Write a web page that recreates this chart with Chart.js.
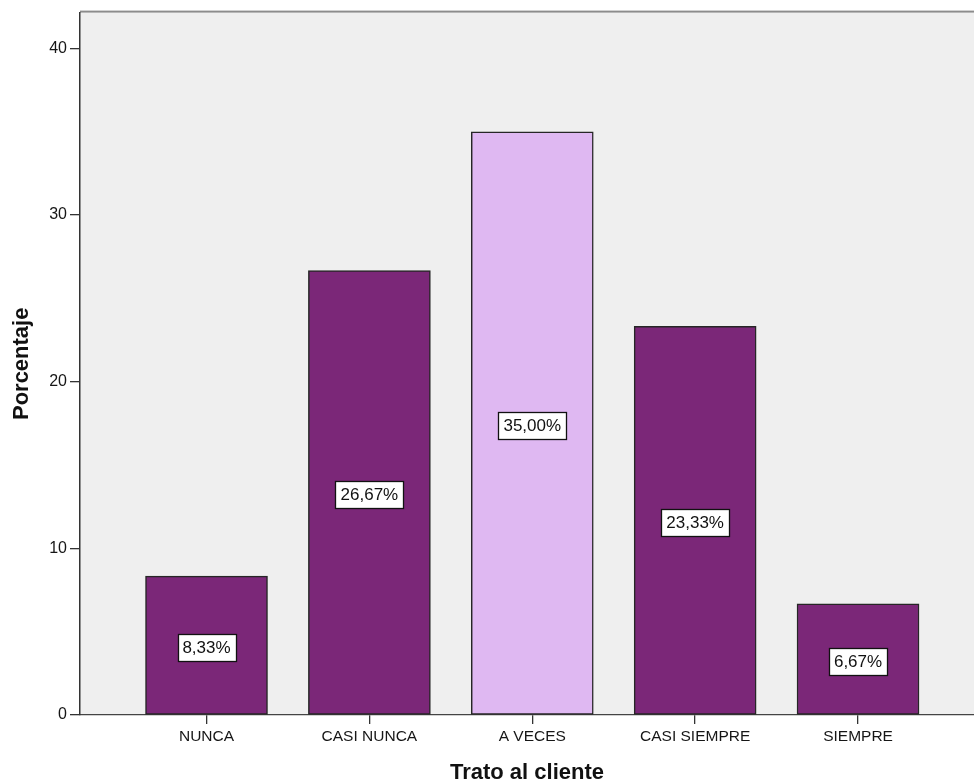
<!DOCTYPE html>
<html>
<head>
<meta charset="utf-8">
<script src="https://cdn.jsdelivr.net/npm/chart.js@4/dist/chart.umd.min.js"></script>
<style>
  html, body { margin: 0; padding: 0; background: #ffffff; }
  #wrap { width: 974px; height: 784px; }
</style>
</head>
<body>
<div id="wrap"><canvas id="c" width="974" height="784"></canvas></div>
<script>
// Distribución de respuestas: Trato al cliente
const categories = ['NUNCA', 'CASI NUNCA', 'A VECES', 'CASI SIEMPRE', 'SIEMPRE'];
const percentages = [8.33, 26.67, 35.00, 23.33, 6.67];
const valueLabels = ['8,33%', '26,67%', '35,00%', '23,33%', '6,67%'];
const yTicks = [0, 10, 20, 30, 40];

const DARK = '#7b2778';
const LIGHT = '#dfb8f2';
const barColors = categories.map(c => c === 'A VECES' ? LIGHT : DARK);

// plot panel: grey background with a heavier top rule
const panelPlugin = {
  id: 'panel',
  beforeDraw(chart) {
    const { ctx, chartArea: a } = chart;
    ctx.save();
    ctx.fillStyle = '#efefef';
    ctx.fillRect(a.left, a.top, a.right - a.left, a.bottom - a.top);
    ctx.fillStyle = '#8c8c8c';
    ctx.fillRect(a.left, a.top - 2, a.right - a.left, 2);
    ctx.restore();
  }
};

// boxed value labels in the middle of every bar
const boxLabelPlugin = {
  id: 'boxLabels',
  afterDatasetsDraw(chart) {
    const { ctx } = chart;
    const meta = chart.getDatasetMeta(0);
    ctx.save();
    ctx.font = '17px "Liberation Sans", Arial, sans-serif';
    ctx.textAlign = 'center';
    ctx.textBaseline = 'middle';
    meta.data.forEach((bar, i) => {
      const text = valueLabels[i];
      const cx = bar.x;
      const cy = (bar.y + bar.base) / 2 + 2;
      const w = Math.round(ctx.measureText(text).width + 10);
      const h = 27;
      const x0 = Math.round(cx - w / 2) + 0.5;
      const y0 = Math.round(cy - h / 2) + 0.5;
      ctx.fillStyle = '#ffffff';
      ctx.fillRect(x0, y0, w, h);
      ctx.strokeStyle = '#111111';
      ctx.lineWidth = 1.3;
      ctx.strokeRect(x0, y0, w, h);
      ctx.fillStyle = '#111111';
      ctx.fillText(text, cx, cy + 1);
    });
    ctx.restore();
  }
};

new Chart(document.getElementById('c'), {
  type: 'bar',
  data: {
    datasets: [{
      data: categories.map((c, i) => ({ x: i, y: percentages[i] })),
      backgroundColor: barColors,
      borderColor: '#262626',
      borderWidth: 1.5,
      borderSkipped: false,
      barThickness: 122
    }]
  },
  options: {
    responsive: false,
    animation: false,
    devicePixelRatio: 1,
    layout: { padding: { top: 11, right: 0, bottom: 0, left: 0 } },
    plugins: { legend: { display: false }, tooltip: { enabled: false } },
    scales: {
      x: {
        type: 'linear',
        offset: false,
        min: -0.7767,
        max: 4.712,
        afterFit(scale) { scale.height = 69; },
        afterBuildTicks(scale) {
          scale.ticks = categories.map((c, i) => ({ value: i }));
        },
        ticks: {
          autoSkip: false,
          maxRotation: 0,
          padding: 3,
          color: '#161616',
          font: { family: '"Liberation Sans", Arial, sans-serif', size: 15.5 },
          callback: (v) => categories[v] ?? ''
        },
        grid: {
          offset: false,
          drawOnChartArea: false,
          drawTicks: true,
          tickLength: 9,
          color: '#333333',
          lineWidth: 1.3
        },
        border: { display: true, color: '#444444', width: 1.3 },
        title: {
          display: true,
          text: 'Trato al cliente',
          color: '#111111',
          font: { family: '"Liberation Sans", Arial, sans-serif', size: 22, weight: 'bold', lineHeight: 1 },
          padding: { top: 0, bottom: 0 }
        }
      },
      y: {
        type: 'linear',
        min: 0,
        max: 42.15,
        afterFit(scale) { scale.width = 80; },
        afterBuildTicks(scale) {
          scale.ticks = yTicks.map(v => ({ value: v }));
        },
        ticks: {
          padding: 3,
          color: '#161616',
          font: { family: '"Liberation Sans", Arial, sans-serif', size: 16 }
        },
        grid: {
          drawOnChartArea: false,
          drawTicks: true,
          tickLength: 10,
          color: '#333333',
          lineWidth: 1.3
        },
        border: { display: true, color: '#333333', width: 1.5 },
        title: {
          display: true,
          text: 'Porcentaje',
          color: '#111111',
          font: { family: '"Liberation Sans", Arial, sans-serif', size: 22, weight: 'bold', lineHeight: 1 },
          padding: { top: 11, bottom: 0 }
        }
      }
    }
  },
  plugins: [panelPlugin, boxLabelPlugin]
});
</script>
</body>
</html>
